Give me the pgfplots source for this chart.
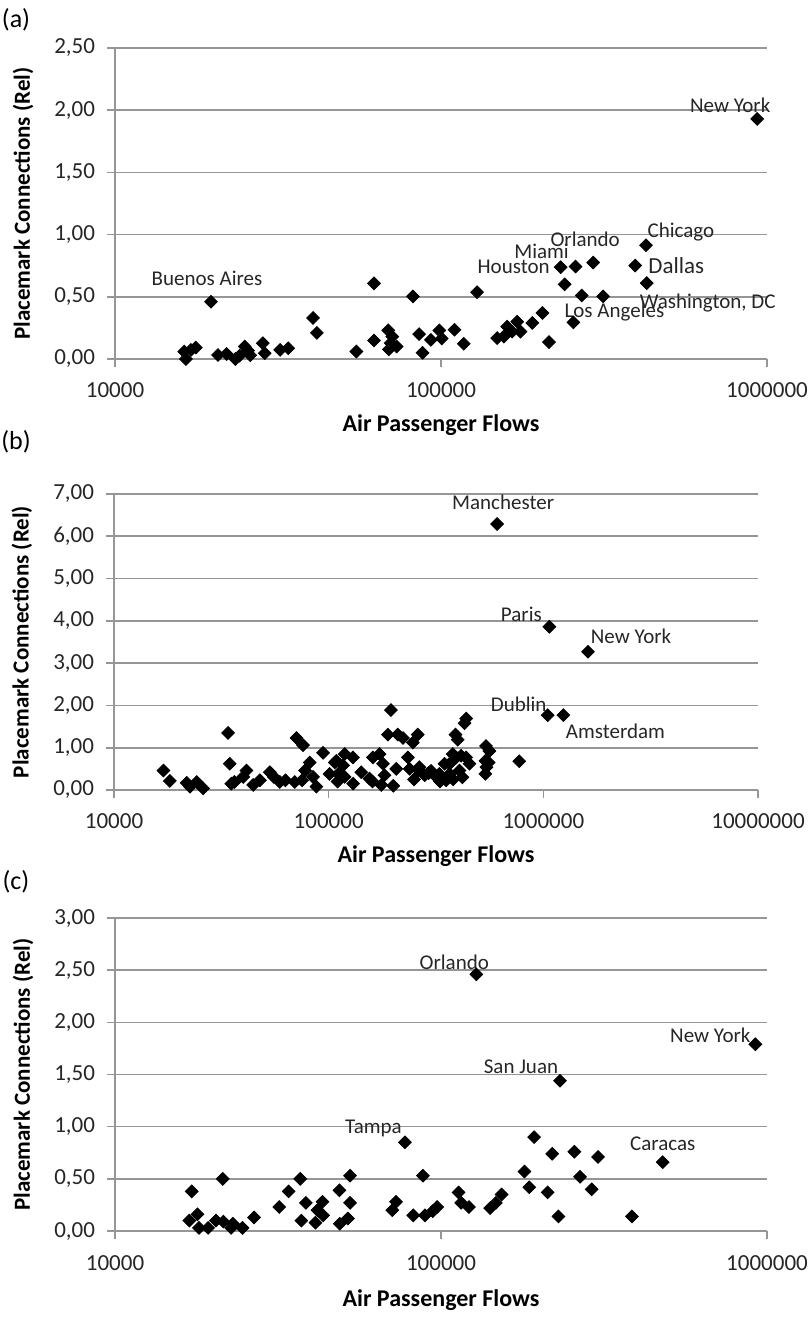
\documentclass[border=0pt]{standalone}
\usepackage{fontspec}
\setmainfont{Carlito}
\usepackage{pgfplots}
\pgfplotsset{compat=1.18}
\definecolor{gridgray}{RGB}{150,150,150}
\pgfplotsset{
  refstyle/.style={
    scale only axis,
    axis x line*=bottom, axis y line*=left,
    axis line style={-, draw=gridgray, line width=0.8pt},
    ymajorgrids, grid style={draw=gridgray, line width=0.8pt},
    tick align=outside, major tick length=4pt,
    tick style={draw=gridgray, line width=0.8pt},
    xminorticks=false, yminorticks=false,
    /pgf/number format/assume math mode=true,
    ticklabel style={font=\fontsize{11.5}{11.5}\selectfont, text=black!85},
    xticklabel style={yshift=-4.5pt},
    yticklabel style={xshift=-2.5pt, /pgf/number format/.cd, fixed, fixed zerofill, precision=2, use comma},
    clip=false,
  },
  dia/.style={only marks, mark=square*, mark size=2.25pt, mark options={rotate=45, fill=black, draw=black}, black},
}
\tikzset{lab/.style={font=\fontsize{10.5}{10.5}\selectfont, inner sep=0pt, anchor=center, text=black!85}}
\begin{document}
\begin{tikzpicture}
\useasboundingbox (0,0) rectangle (405pt,-662.5pt);
\node[font=\fontsize{13}{13}\selectfont, anchor=center] at (8pt,-10pt) {(a)};
\node[font=\fontsize{13}{13}\selectfont, anchor=center] at (8pt,-221pt) {(b)};
\node[font=\fontsize{13}{13}\selectfont, anchor=center] at (8pt,-441pt) {(c)};
% ---------- panel (a)
\begin{axis}[xmode=log, refstyle, at={(57.5pt,-179.5pt)}, anchor=south west,
  width=326pt, height=155.5pt,
  xmin=1e4, xmax=1e6, ymin=0, ymax=2.5, ytick={0,0.5,1,1.5,2,2.5},
  xtick={1e4,1e5,1e6}, xticklabels={10000,100000,1000000},
  every axis x label/.style={at={(axis description cs:0.5,0)}, anchor=center, yshift=-33pt, font=\fontsize{12}{12}\selectfont\bfseries},
  every axis y label/.style={at={(axis description cs:-0.141,0.5)}, anchor=center, rotate=90, font=\fontsize{11.5}{11.5}\selectfont\bfseries},
  xlabel={Air Passenger Flows}, ylabel={Placemark Connections (Rel)}]
\addplot[dia] coordinates {
(16500,0.0) (16300,0.06) (17100,0.073) (17700,0.092) (19700,0.46)
(20700,0.032) (22000,0.04) (23400,0.0) (24100,0.027) (25000,0.10)
(25600,0.068) (26000,0.03) (28400,0.127) (28800,0.046) (32100,0.073)
(34000,0.086) (40500,0.33) (41600,0.21) (55000,0.06) (62300,0.608)
(62300,0.149) (68900,0.23) (70900,0.18) (70100,0.127) (69200,0.078)
(73100,0.10) (82000,0.503) (85700,0.20) (87800,0.05) (93100,0.154)
(98800,0.23) (100500,0.165) (110000,0.235) (117400,0.123) (129000,0.537)
(148700,0.168) (155800,0.18) (159500,0.26) (165300,0.22) (171300,0.30)
(175300,0.22) (190600,0.29) (204700,0.37) (214400,0.136) (232800,0.738)
(239500,0.60) (258600,0.743) (254700,0.294) (270200,0.51) (292900,0.775)
(314200,0.503) (394300,0.751) (425400,0.914) (427500,0.61) (933000,1.93)
};
\node[lab] at (axis cs:933000,1.93) [xshift=-13.5pt, yshift=7pt] {New York};
\node[lab] at (axis cs:19700,0.46) [xshift=-2pt, yshift=11.5pt] {Buenos Aires};
\node[lab] at (axis cs:232800,0.738) [xshift=-23.5pt] {Houston};
\node[lab] at (axis cs:258600,0.743) [xshift=-17pt, yshift=7.5pt] {Miami};
\node[lab] at (axis cs:292900,0.775) [xshift=-4pt, yshift=11.5pt] {Orlando};
\node[lab] at (axis cs:425400,0.914) [xshift=17.5pt, yshift=6.5pt] {Chicago};
\node[lab, font=\fontsize{11.5}{11.5}\selectfont] at (axis cs:394300,0.751) [xshift=20.5pt] {Dallas};
\node[lab] at (axis cs:427500,0.61) [xshift=30.5pt, yshift=-10pt] {Washington, DC};
\node[lab] at (axis cs:254700,0.294) [xshift=20.5pt, yshift=5pt] {Los Angeles};
\end{axis}
% ---------- panel (b)
\begin{axis}[xmode=log, refstyle, at={(57pt,-395pt)}, anchor=south west,
  width=322pt, height=148pt,
  xmin=1e4, xmax=1e7, ymin=0, ymax=7, ytick={0,1,2,3,4,5,6,7},
  xtick={1e4,1e5,1e6,1e7}, xticklabels={10000,100000,1000000,10000000},
  every axis x label/.style={at={(axis description cs:0.5,0)}, anchor=center, yshift=-33pt, font=\fontsize{12}{12}\selectfont\bfseries},
  every axis y label/.style={at={(axis description cs:-0.143,0.5)}, anchor=center, rotate=90, font=\fontsize{11.5}{11.5}\selectfont\bfseries},
  xlabel={Air Passenger Flows}, ylabel={Placemark Connections (Rel)}]
\addplot[dia] coordinates {
(17000,0.46) (18200,0.215) (21800,0.17) (22600,0.08) (24300,0.19) (26000,0.04)
(34000,1.35) (34600,0.62) (35200,0.15) (36400,0.19) (41400,0.46) (40000,0.31)
(44500,0.12) (47800,0.23) (53200,0.42) (55500,0.31) (59200,0.19) (62900,0.23)
(69500,0.19) (70800,1.23) (76000,1.06) (81600,0.65) (77600,0.46) (84500,0.31)
(87700,0.08) (75200,0.23) (94200,0.88) (101000,0.38) (106700,0.65) (110700,0.38)
(118700,0.85) (108600,0.69) (116700,0.58) (129700,0.77) (118600,0.31) (141900,0.42)
(154900,0.27) (160700,0.77) (172600,0.85) (179100,0.62) (175800,0.12) (182000,0.35)
(188800,1.31) (209900,1.31) (206500,0.50) (221800,1.23) (260000,1.31) (246600,1.12)
(233900,0.77) (238200,0.50) (264800,0.54) (295100,0.42) (328100,0.38) (346700,0.62)
(365600,0.62) (352400,0.23) (378400,0.85) (392600,0.77) (414000,0.81) (436500,0.77)
(452900,0.62) (406400,0.46) (365600,0.38) (316900,0.31) (389900,1.31) (399000,1.19)
(429500,1.58) (437000,1.69) (540800,1.04) (561000,0.92) (537000,0.69) (555900,0.65)
(543300,0.54) (537000,0.38) (772700,0.68) (195000,1.89)
(110000,0.20) (130000,0.15) (160000,0.20) (200000,0.10) (250000,0.25) (280000,0.35)
(330000,0.20) (380000,0.25) (420000,0.30) (300000,0.45) (262000,0.47) (292000,0.40)
(609000,6.29) (1067000,3.86) (1615000,3.27) (1048000,1.77) (1240000,1.77)
};
\node[lab] at (axis cs:609000,6.29) [xshift=3pt, yshift=11pt] {Manchester};
\node[lab] at (axis cs:1067000,3.86) [xshift=-14pt, yshift=6pt] {Paris};
\node[lab] at (axis cs:1615000,3.27) [xshift=21.5pt, yshift=7.5pt] {New York};
\node[lab] at (axis cs:1048000,1.77) [xshift=-14.5pt, yshift=5.5pt] {Dublin};
\node[lab] at (axis cs:1240000,1.77) [xshift=26pt, yshift=-8pt] {Amsterdam};
\end{axis}
% ---------- panel (c)
\begin{axis}[xmode=log, refstyle, at={(57.5pt,-615.5pt)}, anchor=south west,
  width=326pt, height=156.5pt,
  xmin=1e4, xmax=1e6, ymin=0, ymax=3, ytick={0,0.5,1,1.5,2,2.5,3},
  xtick={1e4,1e5,1e6}, xticklabels={10000,100000,1000000},
  every axis x label/.style={at={(axis description cs:0.5,0)}, anchor=center, yshift=-34.5pt, font=\fontsize{12}{12}\selectfont\bfseries},
  every axis y label/.style={at={(axis description cs:-0.141,0.5)}, anchor=center, rotate=90, font=\fontsize{11.5}{11.5}\selectfont\bfseries},
  xlabel={Air Passenger Flows}, ylabel={Placemark Connections (Rel)}]
\addplot[dia] coordinates {
(17200,0.38) (16900,0.10) (17900,0.16) (18100,0.03) (19300,0.03) (20400,0.10)
(21400,0.50) (21500,0.09) (22700,0.03) (23000,0.07) (24600,0.03) (26700,0.13)
(31900,0.23) (34100,0.38) (37000,0.50) (38500,0.27) (37300,0.10) (41200,0.08)
(41800,0.20) (43300,0.28) (43500,0.15) (48800,0.39) (48900,0.07) (51800,0.12)
(52600,0.53) (52600,0.27) (70900,0.20) (72800,0.28) (77500,0.85) (82200,0.15)
(88000,0.53) (89300,0.15) (94300,0.19) (97300,0.23) (113200,0.37) (115300,0.27)
(121800,0.23) (141500,0.22) (147300,0.27) (153400,0.35) (180300,0.57) (186500,0.42)
(193000,0.90) (212300,0.37) (219300,0.74) (229200,0.14) (256500,0.76) (267000,0.52)
(289800,0.40) (303100,0.71) (385200,0.14) (478600,0.66)
(128300,2.46) (921000,1.79) (231700,1.44)
};
\node[lab] at (axis cs:128300,2.46) [xshift=-11pt, yshift=6pt] {Orlando};
\node[lab] at (axis cs:921000,1.79) [xshift=-22.5pt, yshift=4.5pt] {New York};
\node[lab] at (axis cs:231700,1.44) [xshift=-19.5pt, yshift=7pt] {San Juan};
\node[lab] at (axis cs:478600,0.66) [yshift=9pt] {Caracas};
\node[lab] at (axis cs:77500,0.85) [xshift=-15.7pt, yshift=7pt] {Tampa};
\end{axis}
\end{tikzpicture}
\end{document}
